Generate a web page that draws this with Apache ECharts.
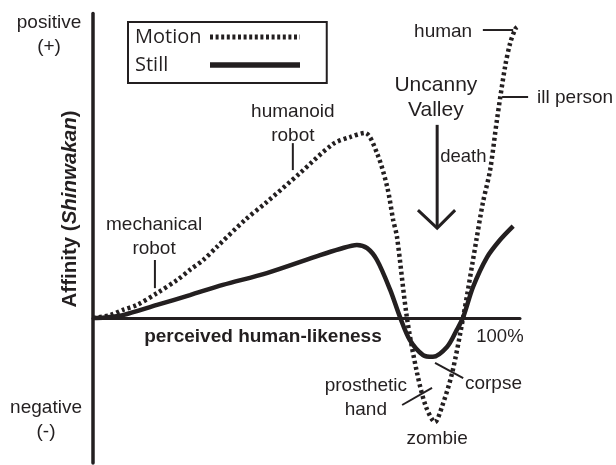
<!DOCTYPE html>
<html>
<head>
<meta charset="utf-8">
<script src="https://cdn.jsdelivr.net/npm/echarts@6/dist/echarts.min.js"></script>
<style>
html,body{margin:0;padding:0;background:#fff;}
#chart{width:616px;height:465px;}
</style>
</head>
<body>
<div id="chart"></div>
<script>
// perceived human-likeness (%) and affinity values
const motionX = [0, 4.0, 7.0, 10.3, 15.0, 19.7, 22.7, 25.8, 29.0, 35.6, 40.7, 48.5, 56.2, 60.2, 63.7, 66.5, 68.9, 70.3, 71.2, 73.5, 75.9, 78.0, 80.1, 81.7, 84.1, 86.7, 89.9, 91.3, 93.0, 94.6, 96.5, 97.7, 98.9, 99.3];
const motionY = [0, 1.0, 2.8, 4.5, 8.6, 13.1, 16.6, 20.0, 24.5, 33.8, 40.0, 50.0, 60.0, 62.4, 63.8, 56.9, 45.2, 33.8, 27.9, 0.3, -19.0, -30.7, -35.9, -30.7, -19.0, 0.3, 27.9, 39.7, 51.0, 68.3, 86.6, 94.8, 99.7, 100.3];
const stillX = [0, 2.8, 7.0, 15.0, 22.7, 30.4, 40.7, 53.2, 57.8, 61.8, 64.2, 66.5, 69.6, 71.9, 74.2, 77.3, 79.6, 82.9, 85.2, 86.7, 89.0, 92.3, 95.3, 98.4];
const stillY = [0, 0.2, 1.0, 4.5, 7.9, 11.4, 15.5, 21.7, 23.8, 25.2, 24.1, 20.0, 9.7, 0.3, -7.6, -12.8, -13.4, -10.0, -4.1, 0.3, 10.7, 21.0, 26.9, 31.7];

const seriesNames = ['Motion', 'Still'];

// annotation texts: [text, x, y, anchor]
const labelTexts = ['humanoid\nrobot', 'mechanical\nrobot', 'human', 'ill person', 'Uncanny\nValley', 'death', 'prosthetic\nhand', 'corpse', 'zombie', 'perceived human-likeness', '100%', 'positive\n(+)', 'negative\n(-)'];
const labelX = [46.8, 14.3, 82.0, 104.0, 80.3, 81.3, 63.9, 87.1, 80.6, 39.8, 95.3, -10.3, -11.0];
const labelY = [67.1, 28.1, 98.6, 75.9, 76.0, 55.5, -27.4, -22.8, -41.7, -6.6, -6.6, 97.6, -35.0];
const labelAnchor = ['center', 'center', 'center', 'left', 'center', 'left', 'center', 'left', 'center', 'center', 'center', 'center', 'center'];

// pointer lines (data coordinates)
const pointerLines = [
  [[46.8, 60.3], [46.8, 51.0]],
  [[14.5, 20.0], [14.5, 10.3]],
  [[91.3, 99.3], [98.4, 99.3]],
  [[95.8, 76.2], [101.9, 76.2]],
  [[72.4, -30.0], [79.4, -24.1]],
  [[80.1, -15.5], [86.7, -20.7]]
];
const arrowShaft = [[80.6, 66.6], [80.6, 31.2]];
const arrowHead = [[76.1, 37.2], [80.6, 31.0], [84.8, 37.2]];
const yAxisTitle = ['Affinity (', 'Shinwakan', ')'];
const yAxisTitlePos = [-5.2, 37.6];

const INK = '#231f20';
const FONT = '"Liberation Sans", Arial, sans-serif';
const CLEAR = 'rgba(0,0,0,0)';

const chart = echarts.init(document.getElementById('chart'), null, {renderer: 'canvas'});

const option = {
  animation: false,
  backgroundColor: '#fff',
  grid: {left: 93, right: 96, top: 13.5, bottom: 2, containLabel: false},
  xAxis: {
    type: 'value', min: 0, max: 100,
    axisLine: {show: true, onZero: true, lineStyle: {color: INK, width: 3}},
    axisTick: {show: false}, axisLabel: {show: false}, splitLine: {show: false}
  },
  yAxis: {
    type: 'value', min: -50, max: 105,
    axisLine: {show: true, lineStyle: {color: INK, width: 3.5}},
    axisTick: {show: false}, axisLabel: {show: false}, splitLine: {show: false}
  },
  legend: {
    orient: 'vertical', left: 128, top: 22, align: 'right',
    selectedMode: false,
    padding: [5, 24, 8, 7], itemGap: 8, itemWidth: 90, itemHeight: 20,
    borderColor: INK, borderWidth: 2,
    formatter: '{a|{name}}',
    textStyle: {
      color: INK, fontFamily: '"Open Sans", sans-serif', fontSize: 20,
      rich: {a: {width: 70, align: 'left', color: INK, fontFamily: '"Open Sans", sans-serif', fontSize: 20}}
    },
    data: [
      {name: seriesNames[0], itemStyle: {color: CLEAR, borderColor: CLEAR, borderWidth: 0, opacity: 0},
       lineStyle: {color: INK, width: 5, type: [3, 2.6]}},
      {name: seriesNames[1], itemStyle: {color: CLEAR, borderColor: CLEAR, borderWidth: 0, opacity: 0},
       lineStyle: {color: INK, width: 5.5, type: 'solid'}}
    ]
  },
  series: [
    {
      name: seriesNames[0], type: 'line', symbol: 'none', smooth: 0.3,
      data: motionX.map((x, i) => [x, motionY[i]]),
      lineStyle: {color: INK, width: 4.5, type: [3, 3], cap: 'butt'},
      itemStyle: {color: INK}, z: 3
    },
    {
      name: seriesNames[1], type: 'line', symbol: 'none', smooth: 0.3,
      data: stillX.map((x, i) => [x, stillY[i]]),
      lineStyle: {color: INK, width: 4.5, type: 'solid'},
      itemStyle: {color: INK}, z: 4
    },
    {
      type: 'custom', clip: false, z: 10, silent: true,
      data: labelTexts.map((t, i) => [labelX[i], labelY[i]]),
      renderItem: function (params, api) {
        const i = params.dataIndex;
        const p = api.coord([labelX[i], labelY[i]]);
        const t = labelTexts[i];
        const isBold = t === 'perceived human-likeness';
        let size = 19;
        if (t === 'Uncanny\nValley') size = 21;
        if (t === 'death' || t === '100%') size = 18.5;
        if (isBold) size = 19;
        return {
          type: 'text', x: p[0], y: p[1],
          style: {
            text: t, fill: INK, fontFamily: FONT, fontSize: size,
            fontWeight: isBold ? 'bold' : 'normal',
            align: labelAnchor[i], verticalAlign: 'middle',
            lineHeight: size === 21 ? 25 : 24
          }
        };
      }
    },
    {
      type: 'custom', clip: false, z: 9, silent: true,
      data: pointerLines.map(l => l[0]),
      renderItem: function (params, api) {
        const l = pointerLines[params.dataIndex];
        const a = api.coord(l[0]), b = api.coord(l[1]);
        return {type: 'line', shape: {x1: a[0], y1: a[1], x2: b[0], y2: b[1]}, style: {stroke: INK, lineWidth: 2}};
      }
    },
    {
      type: 'custom', clip: false, z: 9, silent: true,
      data: [arrowShaft[0]],
      renderItem: function (params, api) {
        const s0 = api.coord(arrowShaft[0]), s1 = api.coord(arrowShaft[1]);
        const head = arrowHead.map(pt => api.coord(pt));
        const yt = api.coord(yAxisTitlePos);
        return {
          type: 'group',
          children: [
            {type: 'line', shape: {x1: s0[0], y1: s0[1], x2: s1[0], y2: s1[1]}, style: {stroke: INK, lineWidth: 3}},
            {type: 'polyline', shape: {points: head}, style: {stroke: INK, lineWidth: 3, fill: null}},
            {
              type: 'text', x: yt[0], y: yt[1], rotation: Math.PI / 2,
              style: {
                text: '{b|' + yAxisTitle[0] + '}{bi|' + yAxisTitle[1] + '}{b|' + yAxisTitle[2] + '}',
                align: 'center', verticalAlign: 'middle',
                rich: {
                  b: {fontFamily: FONT, fontSize: 20.5, fontWeight: 'bold', fill: INK, color: INK},
                  bi: {fontFamily: FONT, fontSize: 20.5, fontWeight: 'bold', fontStyle: 'italic', fill: INK, color: INK}
                }
              }
            }
          ]
        };
      }
    }
  ]
};
chart.setOption(option);
</script>
</body>
</html>
